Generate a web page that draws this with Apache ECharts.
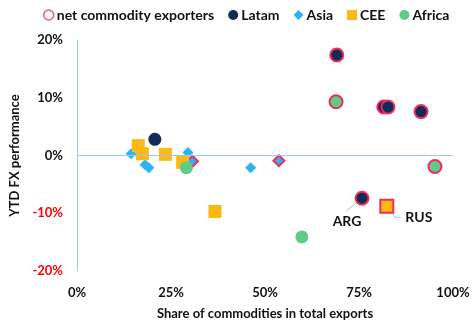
<!DOCTYPE html>
<html>
<head>
<meta charset="utf-8">
<script src="https://cdn.jsdelivr.net/npm/echarts@6/dist/echarts.min.js"></script>
<style>
  html, body { margin: 0; padding: 0; background: #fff; }
  #chart { width: 474px; height: 323px; }
</style>
</head>
<body>
<div id="chart"></div>
<script>
// Share of commodities in total exports (%) vs YTD FX performance (%)
const latamPoints  = [[20.7, 2.8], [69.1, 17.4], [81.6, 8.4], [82.7, 8.4], [91.5, 7.6], [75.8, -7.4]];
const latamNet     = [0, 1, 1, 1, 1, 1];
const latamNames   = ['', '', '', '', '', 'ARG'];

const asiaPoints   = [[14.4, 0.3], [18.1, -1.6], [19.1, -2.1], [29.5, 0.5], [30.7, -1.0], [46.2, -2.1], [53.7, -0.9]];
const asiaNet      = [0, 0, 0, 0, 1, 0, 1];
const asiaNames    = ['', '', '', '', '', '', ''];

const ceePoints    = [[16.3, 1.7], [17.4, 0.3], [23.5, 0.2], [28.1, -1.2], [36.7, -9.7], [82.4, -8.8]];
const ceeNet       = [0, 0, 0, 0, 0, 1];
const ceeNames     = ['', '', '', '', '', 'RUS'];

const africaPoints = [[29.1, -2.1], [68.9, 9.3], [95.2, -1.9], [59.8, -14.1]];
const africaNet    = [0, 1, 1, 0];
const africaNames  = ['', '', '', ''];

const xTicks = [0, 25, 50, 75, 100];
const yTicks = [-20, -10, 0, 10, 20];

const RED = '#ee2d5c';
const AXIS_BLUE = '#9cc7f7';
const FONT = 'Lato';

// Callout label offsets and leader-line shapes (pixels, relative to the marker)
const calloutOffsets = { ARG: [-15, 23], RUS: [32, 11] };
const calloutLines = {
  ARG: [[0, 0], [-16, 13]],
  RUS: [[0, 0], [8, 11], [14, 11]]
};

function buildData(points, net, names) {
  return points.map((p, i) => {
    const item = { value: p, name: names[i] };
    if (net[i]) {
      item.itemStyle = { borderColor: RED, borderWidth: 2 };
    }
    if (names[i]) {
      item.label = {
        show: true,
        formatter: '{b}',
        position: 'inside',
        color: '#111',
        fontFamily: FONT,
        fontWeight: 'bold',
        fontSize: 14
      };
    }
    return item;
  });
}

function regionSeries(name, symbol, size, color, points, net, names, z) {
  return {
    name: name,
    type: 'scatter',
    symbol: symbol,
    symbolSize: size,
    z: z,
    itemStyle: { color: color, opacity: 1 },
    data: buildData(points, net, names),
    labelLayout: function (params) {
      const off = calloutOffsets[params.text];
      if (!off) return {};
      return { dx: off[0], dy: off[1] };
    },
    emphasis: { disabled: true }
  };
}

const chart = echarts.init(document.getElementById('chart'), null, { renderer: 'canvas' });

chart.setOption({
  animation: false,
  textStyle: { fontFamily: FONT },
  legend: {
    top: 3,
    left: 38,
    itemGap: 14,
    itemWidth: 10,
    itemHeight: 10,
    textStyle: { fontFamily: FONT, fontSize: 14, fontWeight: 'bold', color: '#111', padding: [0, 0, 0, -2] },
    data: [
      { name: 'net commodity exporters', icon: 'circle', itemStyle: { color: '#fff', borderColor: RED, borderWidth: 1.5 } },
      { name: 'Latam', icon: 'circle' },
      { name: 'Asia', icon: 'diamond' },
      { name: 'CEE', icon: 'rect' },
      { name: 'Africa', icon: 'circle' }
    ]
  },
  grid: { left: 77, right: 21, top: 40, bottom: 52, outerBoundsMode: 'none', containLabel: false },
  xAxis: {
    type: 'value',
    min: xTicks[0],
    max: xTicks[xTicks.length - 1],
    interval: 25,
    name: 'Share of commodities in total exports',
    nameLocation: 'middle',
    nameGap: 36,
    nameTextStyle: { fontFamily: FONT, fontSize: 13, fontWeight: 'bold', color: '#111' },
    axisLine: { show: false, onZero: false },
    axisTick: { show: false },
    splitLine: { show: false },
    axisLabel: {
      margin: 15,
      fontFamily: FONT, fontSize: 13, fontWeight: 'bold', color: '#111',
      formatter: v => v + '%'
    }
  },
  yAxis: {
    type: 'value',
    min: yTicks[0],
    max: yTicks[yTicks.length - 1],
    interval: 10,
    name: 'YTD FX performance',
    nameLocation: 'middle',
    nameGap: 52,
    nameRotate: 90,
    nameTextStyle: { fontFamily: FONT, fontSize: 13, fontWeight: 'bold', color: '#111' },
    axisLine: { show: true, onZero: false, lineStyle: { color: AXIS_BLUE, width: 1 } },
    axisTick: { show: false },
    splitLine: { show: false },
    axisLabel: {
      margin: 14,
      fontFamily: FONT, fontSize: 13, fontWeight: 'bold',
      color: v => (v < 0 ? '#ff0000' : '#111'),
      formatter: v => v + '%'
    }
  },
  series: [
    {
      name: 'net commodity exporters',
      type: 'scatter',
      data: [],
      itemStyle: { color: '#fff', borderColor: RED, borderWidth: 1.5 },
      markLine: {
        silent: true,
        symbol: 'none',
        label: { show: false },
        lineStyle: { color: AXIS_BLUE, width: 1, type: 'solid' },
        data: [{ yAxis: 0 }]
      }
    },
    regionSeries('Latam', 'circle', 13, '#122a54', latamPoints, latamNet, latamNames, 5),
    regionSeries('Asia', 'diamond', 11, '#2bb3f7', asiaPoints, asiaNet, asiaNames, 2),
    regionSeries('CEE', 'rect', 13, '#fdb913', ceePoints, ceeNet, ceeNames, 3),
    regionSeries('Africa', 'circle', 13, '#5fcb87', africaPoints, africaNet, africaNames, 4)
  ]
});

// Leader lines for the named points, anchored at each marker's pixel position
const leaderLines = [];
[[latamPoints, latamNames], [asiaPoints, asiaNames], [ceePoints, ceeNames], [africaPoints, africaNames]]
  .forEach(([pts, names]) => {
    pts.forEach((p, i) => {
      const shape = calloutLines[names[i]];
      if (!shape) return;
      const c = chart.convertToPixel({ gridIndex: 0 }, p);
      leaderLines.push({
        type: 'polyline',
        z: 1,
        silent: true,
        shape: { points: shape.map(s => [c[0] + s[0], c[1] + s[1]]) },
        style: { stroke: AXIS_BLUE, lineWidth: 1, fill: null }
      });
    });
  });
chart.setOption({ graphic: leaderLines });
</script>
</body>
</html>
